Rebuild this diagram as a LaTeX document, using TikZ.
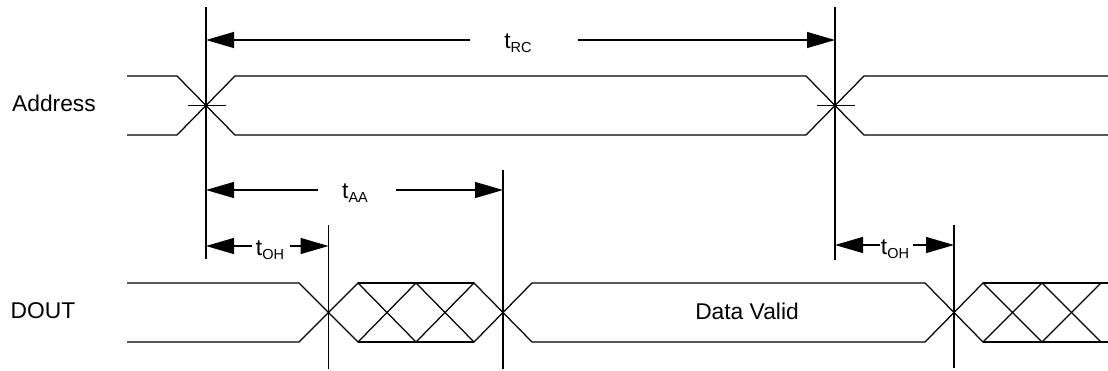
\documentclass[tikz,border=0pt]{standalone}
\usepackage{fontspec}
\setmainfont{Liberation Sans}
\usetikzlibrary{arrows.meta}
\newcommand{\tsub}[1]{t\raisebox{-4pt}{\fontsize{14.5}{15}\selectfont #1}}

\begin{document}
\begin{tikzpicture}[x=1pt, y=-1pt, line width=1.25pt,
    every node/.style = {inner sep=0pt, font=\fontsize{22.8}{27}\selectfont},
    dim/.style = {-{Triangle[length=28pt, width=16pt]}}]
  \useasboundingbox (0,0) rectangle (1108,370);
  % signal names
  \node[anchor=base west] (addr) at (11.5,111) {Address};
  \node[anchor=base west] (dout) at (10,318) {DOUT};
  % edge markers
  \coordinate (a1) at (206,7);   \coordinate (a2) at (206,259);
  \coordinate (b1) at (835,7);   \coordinate (b2) at (835,260);
  \coordinate (c1) at (328.5,225); \coordinate (c2) at (328.5,369);
  \coordinate (d1) at (503,170); \coordinate (d2) at (503,369);
  \coordinate (e1) at (954,225); \coordinate (e2) at (954,368);
  \draw (a1) -- (a2);
  \draw (b1) -- (b2);
  \draw (c1) -- (c2);
  \draw (d1) -- (d2);
  \draw (e1) -- (e2);
  % address bus
  \draw (127,76) -- (177,76) -- (235,135) -- (806,135) -- (864,76) -- (1108,76);
  \draw (127,135) -- (177,135) -- (235,76) -- (806,76) -- (864,135) -- (1108,135);
  \draw (188,105.5) -- (226,105.5);
  \draw (817,105.5) -- (855,105.5);
  % data out
  \draw (127,283) -- (299,283) -- (358,342) -- (416,283) -- (474,342) -- (532,283)
    -- (925,283) -- (983,342) -- (1042,283) -- (1101,342);
  \draw (127,342) -- (299,342) -- (358,283) -- (416,342) -- (474,283) -- (532,342)
    -- (925,342) -- (983,283) -- (1042,342) -- (1101,283);
  \draw (358,283) -- (474,283) (358,342) -- (474,342);
  \draw (983,283) -- (1108,283) (983,342) -- (1108,342);
  \node[anchor=base] (valid) at (747,319) {Data Valid};
  % timing arrows
  \coordinate (rcl) at (470,40);  \coordinate (rcr) at (578,40);
  \draw[dim] (rcl) -- (rcl -| a1);
  \draw[dim] (rcr) -- (rcr -| b1);
  \node[anchor=base] (rc) at (518,48) {\tsub{RC}};
  \coordinate (aal) at (318,190); \coordinate (aar) at (396,190);
  \draw[dim] (aal) -- (aal -| a1);
  \draw[dim] (aar) -- (aar -| d1);
  \node[anchor=base] (aa) at (355,198) {\tsub{AA}};
  \coordinate (ohl) at (252,246); \coordinate (ohr) at (290,246);
  \draw[dim] (ohl) -- (ohl -| a1);
  \draw[dim] (ohr) -- (ohr -| c1);
  \node[anchor=base] (oh) at (270,255) {\tsub{OH}};
  \coordinate (ohbl) at (880,245); \coordinate (ohbr) at (913,245);
  \draw[dim] (ohbl) -- (ohbl -| b1);
  \draw[dim] (ohbr) -- (ohbr -| e1);
  \node[anchor=base] (ohb) at (895,254) {\tsub{OH}};
\end{tikzpicture}
\end{document}
